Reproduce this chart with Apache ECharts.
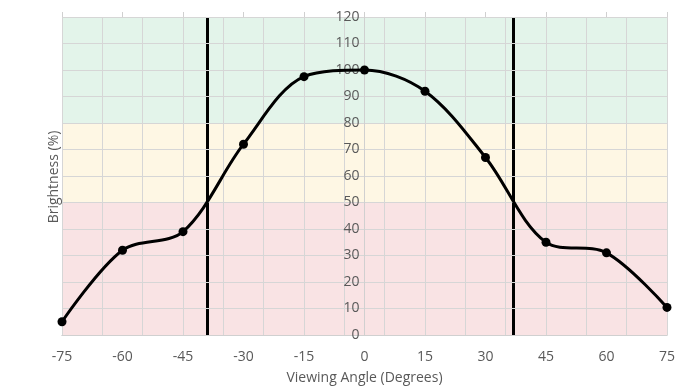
<!DOCTYPE html>
<html><head><meta charset="utf-8">
<script src="https://cdn.jsdelivr.net/npm/echarts@6/dist/echarts.min.js"></script>
<style>html,body{margin:0;padding:0;background:#fff}#c{width:693px;height:390px}</style>
</head><body><div id="c"></div>
<script>
const angles = [-75, -60, -45, -30, -15, 0, 15, 30, 45, 60, 75];
const brightness = [5, 32, 39, 72, 97.5, 100, 92, 67, 35, 31, 10.4];
const cutoffAngles = [-39, 37];
const bands = [[0, 50, '#f9e3e4'], [50, 80, '#fef7e4'], [80, 120, '#e3f4ea']];
const fontFam = '"Open Sans", "Liberation Sans", sans-serif';

const chart = echarts.init(document.getElementById('c'));
const gridLeft = 62, gridRight = 26;
const plotW = 693 - gridLeft - gridRight;
const zeroOffset = -plotW * (0 - (-75)) / 150;

chart.setOption({
  animation: false,
  grid: { left: gridLeft, right: gridRight, top: 17, bottom: 54, containLabel: false },
  xAxis: [{
    type: 'value', min: -75, max: 75, interval: 15, position: 'bottom', zlevel: 1,
    axisLine: { show: true, onZero: false, lineStyle: { color: '#d0d0d0' } },
    axisTick: { show: false },
    axisLabel: { color: '#595959', fontSize: 14, fontFamily: fontFam, margin: 15 },
    splitLine: { show: false },
    name: 'Viewing Angle (Degrees)', nameLocation: 'middle', nameGap: 36,
    nameTextStyle: { color: '#595959', fontSize: 14, fontFamily: fontFam }
  }, {
    type: 'value', min: -75, max: 75, interval: 10, position: 'top', zlevel: 1,
    axisLine: { show: true, lineStyle: { color: '#d0d0d0' } },
    axisTick: { show: false }, axisLabel: { show: false },
    splitLine: { show: true, lineStyle: { color: '#d6d6d6', width: 1 } }
  }, {
    type: 'value', min: -75, max: 75, interval: 15, position: 'top', zlevel: 1,
    axisLine: { show: false },
    axisTick: { show: true, inside: false, length: 5, lineStyle: { color: '#d0d0d0' } },
    axisLabel: { show: false }, splitLine: { show: false }
  }],
  yAxis: {
    type: 'value', min: 0, max: 120, interval: 10, position: 'left', offset: zeroOffset, zlevel: 1,
    axisLine: { show: true, onZero: false, lineStyle: { color: '#d0d0d0' } },
    axisTick: { show: false },
    axisLabel: { color: '#595959', fontSize: 14, fontFamily: fontFam, margin: 5 },
    splitLine: { show: true, lineStyle: { color: '#d6d6d6', width: 1 } }
  },
  graphic: [{
    type: 'text', x: 54, y: 177, rotation: Math.PI / 2,
    style: { text: 'Brightness (%)', fill: '#595959', font: '14px ' + fontFam, align: 'center', verticalAlign: 'middle' }
  }],
  series: [{
    type: 'line', xAxisIndex: 0, data: [], silent: true, zlevel: 0,
    markArea: { silent: true, data: bands.map(b => [{ yAxis: b[0], itemStyle: { color: b[2] } }, { yAxis: b[1] }]) }
  }, {
    type: 'line', xAxisIndex: 0, data: [], silent: true, zlevel: 2,
    markLine: {
      silent: true, symbol: 'none', label: { show: false },
      lineStyle: { color: '#000', width: 3, type: 'solid' },
      data: cutoffAngles.map(a => ({ xAxis: a }))
    }
  }, {
    type: 'line', xAxisIndex: 0, zlevel: 2,
    data: angles.map((a, i) => [a, brightness[i]]),
    smooth: 0.33, symbol: 'circle', symbolSize: 9,
    lineStyle: { color: '#000', width: 3 },
    itemStyle: { color: '#000' }
  }]
});
</script></body></html>
